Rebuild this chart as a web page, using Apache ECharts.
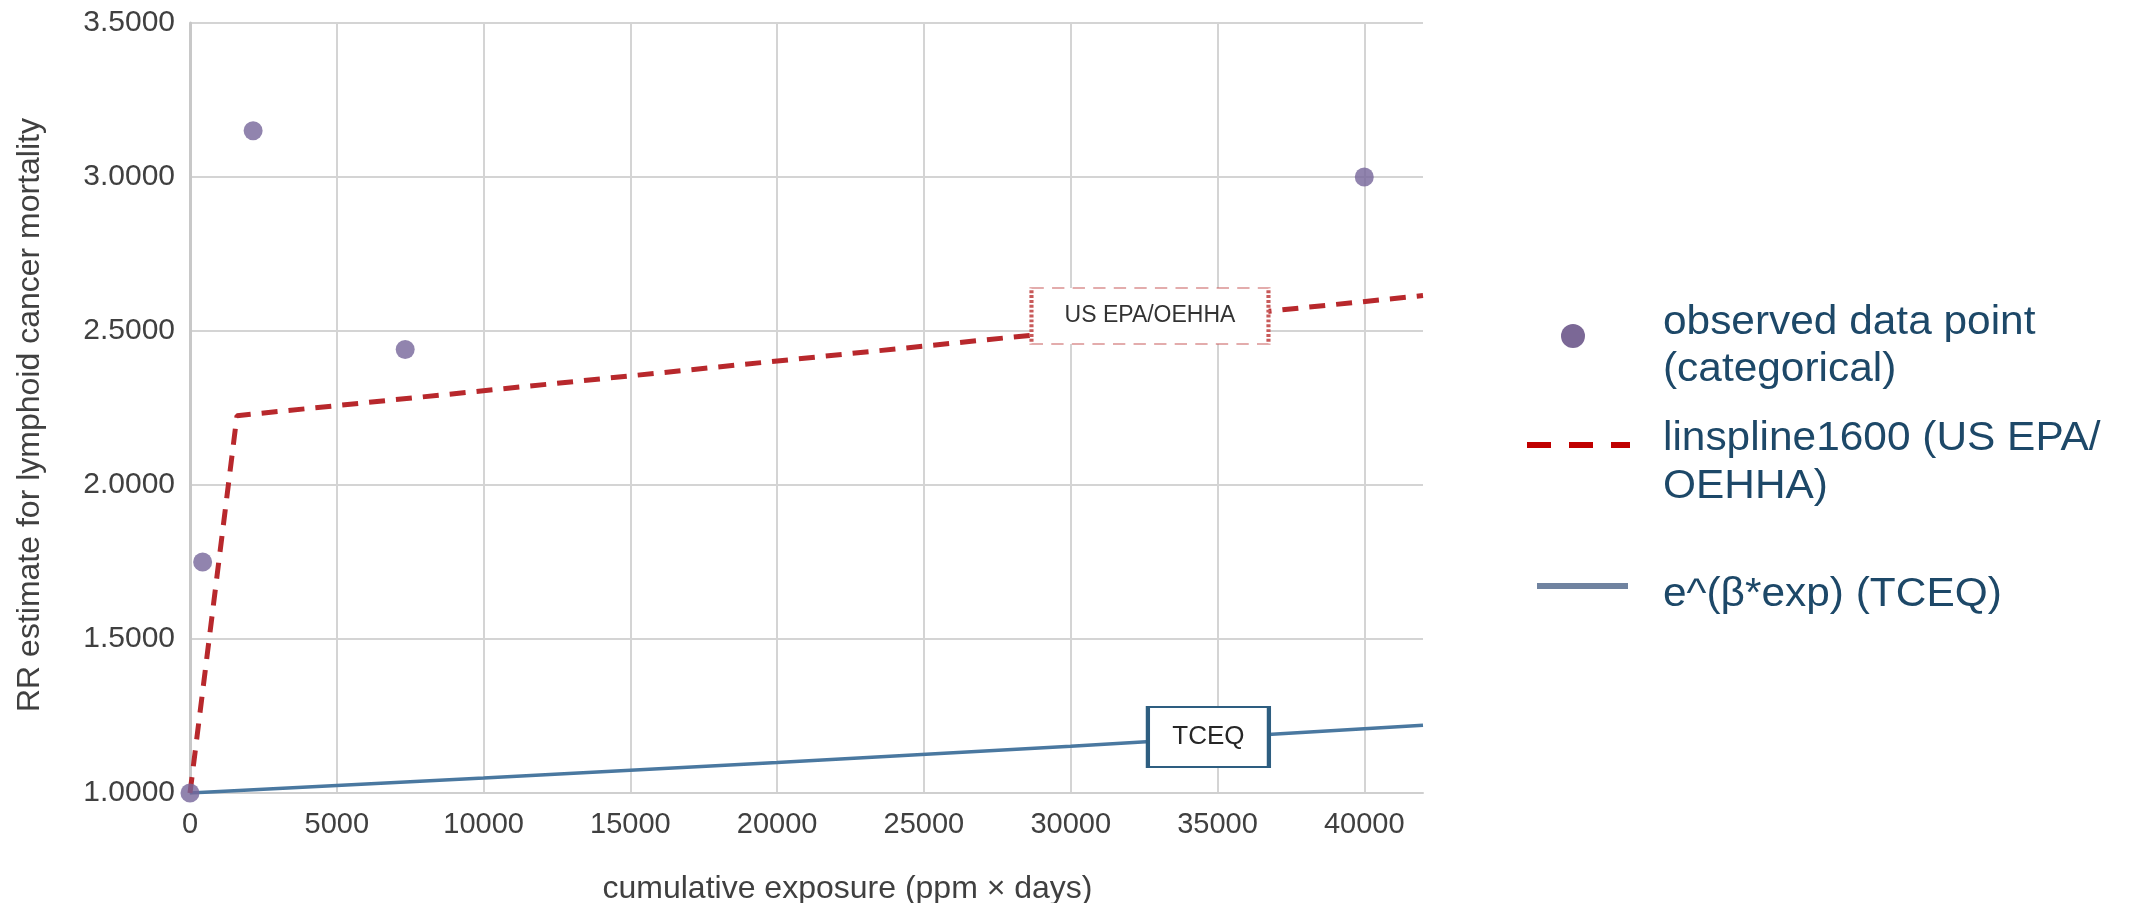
<!DOCTYPE html>
<html>
<head>
<meta charset="utf-8">
<script src="https://cdn.jsdelivr.net/npm/echarts@6/dist/echarts.min.js"></script>
<style>
html,body{margin:0;padding:0;background:#fff;}
#chart{width:2129px;height:903px;}
</style>
</head>
<body>
<div id="chart"></div>
<script>
// ---- data ----
const observedPoints = [[0, 1.0], [430, 1.75], [2150, 3.15], [7330, 2.44], [40000, 3.0]];
const linsplinePoints = [[0, 1.0], [1600, 2.225], [42000, 2.615]];
const tceqPoints = [[0, 1.0], [10000, 1.049], [20000, 1.099], [30000, 1.152], [42000, 1.22]];
const xTickStep = 5000;
const yTickStep = 0.5;
const xRange = [0, 42000];
const yRange = [1.0, 3.5];
const legendLabels = {
  observed: ['observed data point', '(categorical)'],
  linspline: ['linspline1600 (US EPA/', 'OEHHA)'],
  tceq: ['e^(β*exp) (TCEQ)']
};
const annotationEPA = { text: 'US EPA/OEHHA', at: [32700, 2.549] };
const annotationTCEQ = { text: 'TCEQ', at: [34690, 1.182] };

const FONT = '"Liberation Sans", Arial, Helvetica, sans-serif';
const chart = echarts.init(document.getElementById('chart'));
const legendColor = '#1d4868';
const legendFont = '40px ' + FONT;

function legendText(text, y) {
  return { type: 'text', x: 1663, y: y, scaleX: 1.06, z: 10,
    style: { text: text, font: legendFont, fill: legendColor, verticalAlign: 'middle', align: 'left' } };
}

const option = {
  animation: false,
  backgroundColor: '#ffffff',
  textStyle: { fontFamily: FONT },
  grid: { left: 190, right: 706, top: 23, bottom: 110, containLabel: false, outerBoundsMode: 'none' },
  xAxis: {
    type: 'value',
    min: xRange[0], max: xRange[1], interval: xTickStep,
    name: 'cumulative exposure (ppm × days)',
    nameLocation: 'middle', nameGap: 80,
    nameTextStyle: { fontSize: 32, color: '#404040', fontFamily: FONT, padding: [0, 0, 0, 82] },
    axisLine: { show: true, lineStyle: { color: '#cfcfcf', width: 2 } },
    axisTick: { show: false },
    axisLabel: {
      fontSize: 29, color: '#404040', margin: 17, fontFamily: FONT,
      formatter: v => (v % xTickStep === 0 ? String(v) : '')
    },
    splitLine: { show: true, showMinLine: true, showMaxLine: false, lineStyle: { color: '#d4d4d4', width: 2 } }
  },
  yAxis: {
    type: 'value',
    min: yRange[0], max: yRange[1], interval: yTickStep,
    name: 'RR estimate for lymphoid cancer mortality',
    nameLocation: 'middle', nameGap: 144,
    nameTextStyle: { fontSize: 32, color: '#404040', fontFamily: FONT, padding: [0, 14, 0, 0] },
    axisLine: { show: true, lineStyle: { color: '#c8c8c8', width: 3 } },
    axisTick: { show: false },
    axisLabel: { fontSize: 30, color: '#404040', margin: 15, fontFamily: FONT, formatter: v => v.toFixed(4) },
    splitLine: { show: true, lineStyle: { color: '#d4d4d4', width: 2 } }
  },
  series: [
    {
      name: 'e^(β*exp) (TCEQ)',
      type: 'line',
      data: tceqPoints,
      showSymbol: false,
      smooth: false,
      lineStyle: { color: '#4a78a0', width: 3.5 },
      z: 2,
      markPoint: {
        symbol: 'rect',
        symbolSize: [121, 60],
        silent: true,
        itemStyle: { color: '#ffffff', borderColor: '#2e5e80', borderWidth: 3 },
        label: { show: true, position: 'inside', formatter: annotationTCEQ.text, color: '#262626', fontSize: 26, fontFamily: FONT },
        data: [{ coord: annotationTCEQ.at }]
      }
    },
    {
      name: 'linspline1600 (US EPA/OEHHA)',
      type: 'line',
      data: linsplinePoints,
      showSymbol: false,
      lineStyle: { color: '#b8282c', width: 5, type: [16, 11], cap: 'butt' },
      z: 3,
      markPoint: {
        symbol: 'rect',
        symbolSize: [237, 56],
        silent: true,
        itemStyle: { color: '#ffffff', borderColor: '#c85a5a', borderWidth: 2, borderType: [6, 4] },
        label: { show: true, position: 'inside', formatter: annotationEPA.text, color: '#333333', fontSize: 23, fontFamily: FONT },
        data: [{ coord: annotationEPA.at }]
      }
    },
    {
      name: 'observed data point (categorical)',
      type: 'scatter',
      data: observedPoints,
      symbol: 'circle',
      symbolSize: 19,
      itemStyle: { color: '#76659a' },
      z: 5
    }
  ],
  graphic: [
    // legend (drawn at the right of the plot)
    { type: 'circle', shape: { cx: 1573, cy: 336, r: 12 }, style: { fill: '#7b6896' }, z: 10 },
    legendText(legendLabels.observed[0], 323),
    legendText(legendLabels.observed[1], 370),
    { type: 'rect', shape: { x: 1527, y: 442, width: 24, height: 6 }, style: { fill: '#c00000' }, z: 10 },
    { type: 'rect', shape: { x: 1569, y: 442, width: 24, height: 6 }, style: { fill: '#c00000' }, z: 10 },
    { type: 'rect', shape: { x: 1611, y: 442, width: 19, height: 6 }, style: { fill: '#c00000' }, z: 10 },
    legendText(legendLabels.linspline[0], 439),
    legendText(legendLabels.linspline[1], 487),
    { type: 'rect', shape: { x: 1537, y: 583, width: 91, height: 6 }, style: { fill: '#7083a0' }, z: 10 },
    legendText(legendLabels.tceq[0], 595)
  ]
};
chart.setOption(option);
</script>
</body>
</html>
